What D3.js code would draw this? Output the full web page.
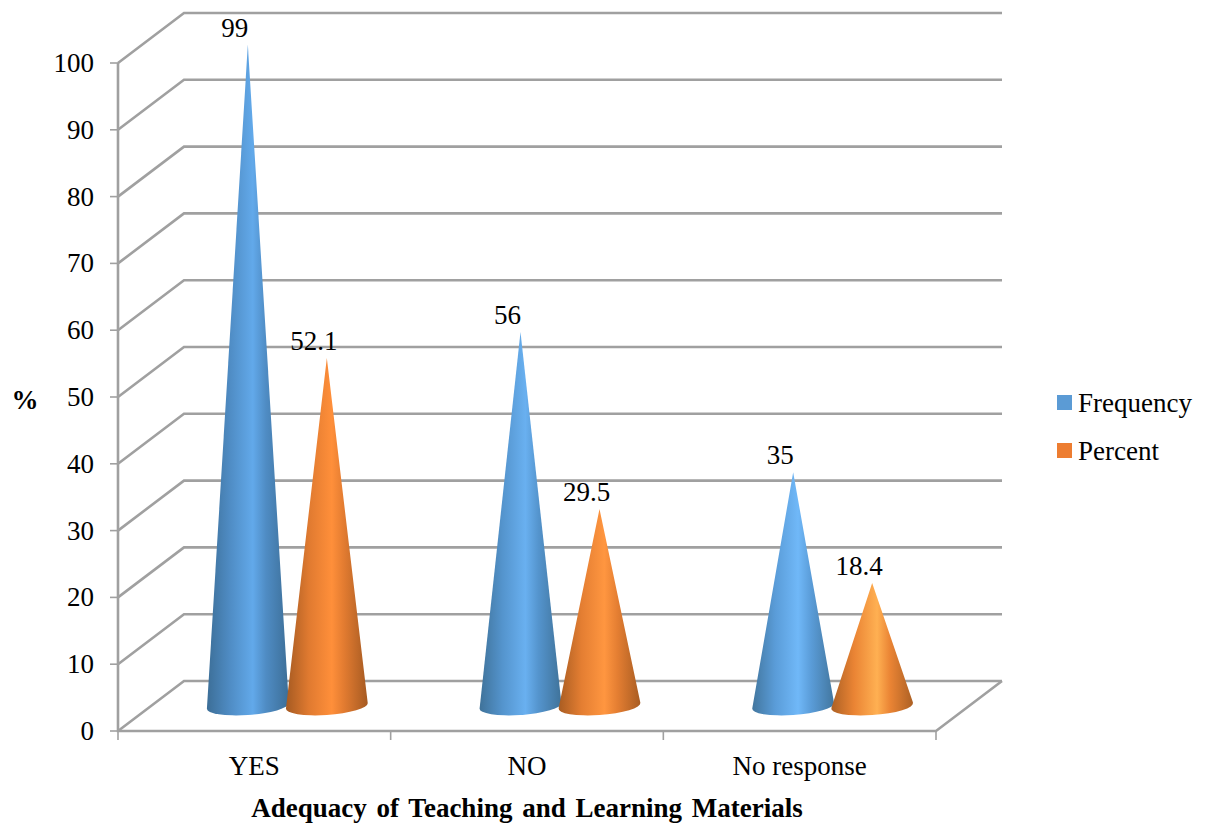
<!DOCTYPE html>
<html>
<head>
<meta charset="utf-8">
<style>
html,body{margin:0;padding:0;background:#fff;}
svg{display:block;}
text{font-family:"Liberation Serif",serif;fill:#000;}
</style>
<script src="https://cdn.jsdelivr.net/npm/d3@7/dist/d3.min.js"></script>
</head>
<body>
<svg id="chart" width="1210" height="823"></svg>
<script>
// Chart data
const categories = ["YES", "NO", "No response"];
const seriesNames = ["Frequency", "Percent"];
const frequency = [99, 56, 35];
const percent = [52.1, 29.5, 18.4];
const yTicks = [0, 10, 20, 30, 40, 50, 60, 70, 80, 90, 100];
const xTitle = "Adequacy of Teaching and Learning Materials";
const yTitle = "%";

// Gradient stops for each series, per category: edge, mid, highlight
const blueShades = [
  ["#3c6e97", "#4f8cc4", "#62a9ea"],
  ["#3f7299", "#5494cd", "#69b0f0"],
  ["#42769e", "#5a9cd8", "#70b8f8"]
];
const orangeShades = [
  ["#a55a22", "#e07a30", "#ff8f3a"],
  ["#a85c22", "#e47e32", "#ff9640"],
  ["#ac6024", "#ea8434", "#ffb052"]
];

const svg = d3.select("#chart");
const defs = svg.append("defs");

// The oblique projection: the back wall sits up and right of the front edge
const depth = { x: 66, y: -50 };
const plot = { left: 118, right: 936, bottom: 731, top: 63 };

const y = d3.scaleLinear().domain([0, 100]).range([plot.bottom, plot.top]);
const x = d3.scaleBand().domain(categories).range([plot.left, plot.right]);
const offset = d3.scaleBand().domain(seriesNames).range([-79, 79]).padding(0);

const gridColor = "#a0a0a0";
const gridWidth = 2.6;
const grid = svg.append("g").attr("fill", "none").attr("stroke", gridColor).attr("stroke-width", gridWidth);

// Back wall rules and the side wall diagonals
yTicks.forEach(t => {
  const py = y(t);
  grid.append("path").attr("d", d3.line()([
    [plot.left, py],
    [plot.left + depth.x, py + depth.y],
    [plot.right + depth.x, py + depth.y]
  ]));
});
// Floor edges and vertical axis
grid.append("path").attr("d", d3.line()([
  [plot.left, plot.top], [plot.left, plot.bottom], [plot.right, plot.bottom], [plot.right + depth.x, plot.bottom + depth.y]
]));

const ticks = svg.append("g").attr("stroke", gridColor).attr("stroke-width", 1.6).attr("fill", "none");
yTicks.forEach(t => {
  ticks.append("line").attr("x1", plot.left - 8).attr("x2", plot.left).attr("y1", y(t)).attr("y2", y(t));
});
x.domain().concat([null]).forEach((c, i) => {
  const px = plot.left + i * x.bandwidth();
  ticks.append("line").attr("x1", px).attr("x2", px).attr("y1", plot.bottom).attr("y2", plot.bottom + 9);
});

// Tick labels
svg.append("g").selectAll("text").data(yTicks).join("text")
  .attr("x", 94).attr("y", d => y(d) + 9)
  .attr("text-anchor", "end").attr("font-size", 27)
  .text(d => d);

svg.append("g").selectAll("text").data(categories).join("text")
  .attr("x", d => x(d) + x.bandwidth() / 2)
  .attr("y", 775)
  .attr("text-anchor", "middle").attr("font-size", 27)
  .text(d => d);

svg.append("text").attr("x", 25).attr("y", 409).attr("text-anchor", "middle")
  .attr("font-size", 27).attr("font-weight", "bold").text(yTitle);

svg.append("text").attr("x", 527).attr("y", 817).attr("text-anchor", "middle")
  .attr("font-size", 27).attr("font-weight", "bold").attr("word-spacing", 3).text(xTitle);

// Cones stand on the middle of the floor depth
const midOffset = { x: depth.x / 2, y: depth.y / 2 };
const baseRx = 41, baseRy = 9, baseTilt = -4;

function conePath(cx, cy, tipY) {
  const a = baseTilt * Math.PI / 180;
  const cos = Math.cos(a), sin = Math.sin(a);
  const dx = 0, dy = tipY - cy;
  // tip in the ellipse's own unit-circle frame
  const ux = (dx * cos + dy * sin) / baseRx;
  const uy = (-dx * sin + dy * cos) / baseRy;
  const r = Math.hypot(ux, uy);
  const base = Math.atan2(uy, ux), spread = Math.acos(1 / r);
  const pt = th => {
    const lx = baseRx * Math.cos(th), ly = baseRy * Math.sin(th);
    return [cx + lx * cos - ly * sin, cy + lx * sin + ly * cos];
  };
  const t1 = pt(base + spread), t2 = pt(base - spread);
  const [right, left] = t1[0] > t2[0] ? [t1, t2] : [t2, t1];
  return `M${cx},${tipY}L${right[0]},${right[1]}A${baseRx},${baseRy} ${baseTilt} 1 1 ${left[0]},${left[1]}Z`;
}

function addGradient(id, shades, cx) {
  const g = defs.append("linearGradient").attr("id", id)
    .attr("gradientUnits", "userSpaceOnUse")
    .attr("x1", cx - baseRx).attr("x2", cx + baseRx).attr("y1", 0).attr("y2", 0);
  [[0, 0], [0.28, 1], [0.56, 2], [0.72, 1], [1, 0]].forEach(([o, k]) => {
    g.append("stop").attr("offset", o).attr("stop-color", shades[k]);
  });
}

const series = [
  { name: seriesNames[0], values: frequency, shades: blueShades },
  { name: seriesNames[1], values: percent, shades: orangeShades }
];

const cones = svg.append("g");
const labels = svg.append("g");
categories.forEach((c, ci) => {
  series.forEach(s => {
    const cx = x(c) + x.bandwidth() / 2 + midOffset.x + offset(s.name) + offset.bandwidth() / 2;
    const cy = y(0) + midOffset.y;
    const tipY = y(s.values[ci]) + midOffset.y;
    const id = `cone-${s.name}-${ci}`;
    addGradient(id, s.shades[ci], cx);
    cones.append("path").attr("d", conePath(cx, cy, tipY)).attr("fill", `url(#${id})`);
    labels.append("text")
      .attr("x", cx - 13).attr("y", tipY - 8)
      .attr("text-anchor", "middle").attr("font-size", 27)
      .text(s.values[ci]);
  });
});

// Legend
const legend = svg.append("g");
const legendColors = ["#5b9bd5", "#ed7d31"];
const legendY = [395, 443];
seriesNames.forEach((n, i) => {
  legend.append("rect").attr("x", 1057).attr("y", legendY[i]).attr("width", 15).attr("height", 15).attr("fill", legendColors[i]);
  legend.append("text").attr("x", 1078).attr("y", legendY[i] + 17).attr("font-size", 27).text(n);
});
</script>
</body>
</html>
